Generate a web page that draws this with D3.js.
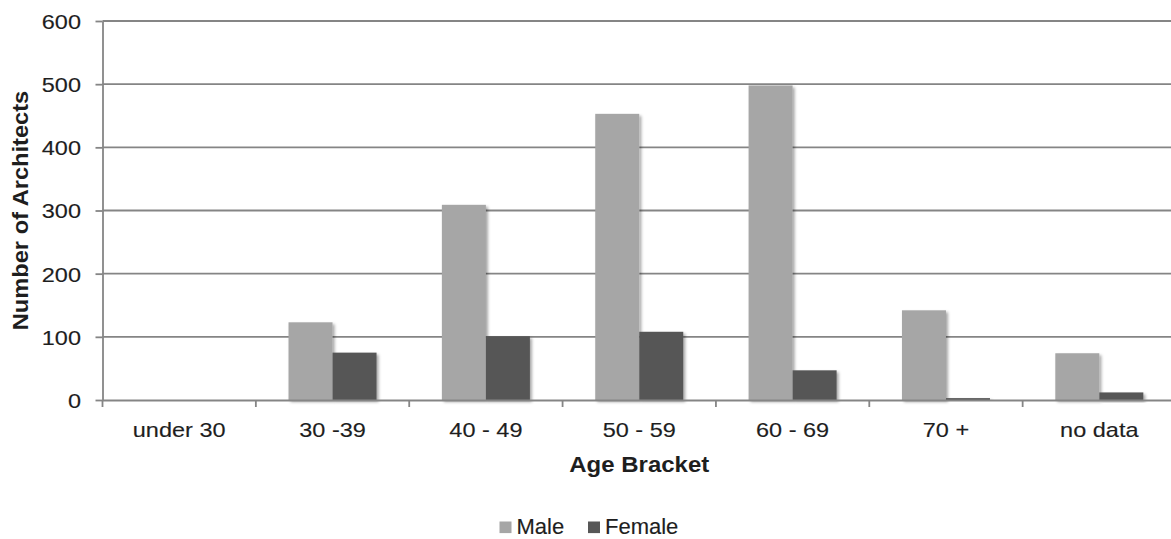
<!DOCTYPE html>
<html>
<head>
<meta charset="utf-8">
<script src="https://cdn.jsdelivr.net/npm/d3@7"></script>
<style>
  html, body { margin: 0; padding: 0; background: #fff; }
  svg { display: block; font-family: "Liberation Sans", Arial, sans-serif; }
</style>
</head>
<body>
<svg id="chart" width="1171" height="539"></svg>
<script>
const categories = ["under 30", "30 -39", "40 - 49", "50 - 59", "60 - 69", "70 +", "no data"];
const seriesNames = ["Male", "Female"];
const maleValues = [0, 123, 309, 453, 498, 142, 74];
const femaleValues = [0, 75, 101, 108, 47, 3, 12];
const yTicks = [0, 100, 200, 300, 400, 500, 600];
const colors = { Male: "#a6a6a6", Female: "#575757" };

(function () {
const svg = d3.select("#chart");
const mLeft = 102.5, mRight = 1176, mTop = 21, mBottom = 400;
const axisColor = "#858585";
const textColor = "#1e1e1e";

const defs = svg.append("defs");
const f = defs.append("filter").attr("id", "shadow")
  .attr("x", "-20%").attr("y", "-20%").attr("width", "150%").attr("height", "150%");
f.append("feDropShadow").attr("dx", 2).attr("dy", 2).attr("stdDeviation", 1.6)
  .attr("flood-color", "#000").attr("flood-opacity", 0.35);

const x0 = d3.scaleBand().domain(categories).range([mLeft, mRight]).padding(0);
const bw = x0.bandwidth();
const x1 = d3.scaleBand().domain(seriesNames).range([bw * 0.213, bw * 0.787]).padding(0);
const y = d3.scaleLinear().domain([0, 600]).range([mBottom, mTop]);

// gridlines
svg.append("g").selectAll("line").data(yTicks.filter(d => d > 0)).join("line")
  .attr("x1", mLeft).attr("x2", 1171)
  .attr("y1", d => y(d)).attr("y2", d => y(d))
  .attr("stroke", axisColor).attr("stroke-width", 1.8);

// bars
const data = categories.map((c, i) => ({ cat: c, Male: maleValues[i], Female: femaleValues[i] }));
const groups = svg.append("g").selectAll("g").data(data).join("g")
  .attr("transform", d => `translate(${x0(d.cat)},0)`);
groups.selectAll("rect").data(d => seriesNames.map(s => ({ s, v: d[s] })).filter(e => e.v > 0)).join("rect")
  .attr("x", d => x1(d.s)).attr("width", x1.bandwidth())
  .attr("y", d => y(d.v)).attr("height", d => y(0) - y(d.v))
  .attr("fill", d => colors[d.s]).attr("filter", "url(#shadow)");

// y axis
const yAxis = svg.append("g").attr("transform", `translate(${mLeft},0)`)
  .call(d3.axisLeft(y).tickValues(yTicks).tickSize(7).tickSizeOuter(0));
yAxis.select(".domain").attr("stroke", axisColor).attr("stroke-width", 1.8);
yAxis.selectAll(".tick line").attr("stroke", axisColor).attr("stroke-width", 1.8);
yAxis.selectAll(".tick text")
  .attr("x", 0).attr("dy", null).attr("y", 0)
  .attr("transform", "translate(-21.5,7.4) scale(1.13,1)")
  .attr("text-anchor", "end")
  .style("font-size", "20.8px").style("font-family", "Liberation Sans, Arial, sans-serif")
  .attr("fill", textColor).attr("stroke", textColor).attr("stroke-width", 0.15);

// x axis
const xAxis = svg.append("g").attr("transform", `translate(0,${mBottom})`)
  .call(d3.axisBottom(x0).tickSize(0).tickSizeOuter(0));
xAxis.select(".domain").attr("stroke", axisColor).attr("stroke-width", 1.8);
xAxis.selectAll(".tick text")
  .attr("y", 0).attr("dy", null)
  .attr("transform", "translate(0,36.7) scale(1.13,1)")
  .style("font-size", "20.8px").style("font-family", "Liberation Sans, Arial, sans-serif")
  .attr("fill", textColor).attr("stroke", textColor).attr("stroke-width", 0.15);
// boundary tick marks
svg.append("g").selectAll("line").data(categories).join("line")
  .attr("x1", d => x0(d)).attr("x2", d => x0(d))
  .attr("y1", mBottom).attr("y2", mBottom + 7)
  .attr("stroke", axisColor).attr("stroke-width", 1.8);

// axis titles
svg.append("text")
  .attr("transform", `translate(${(mLeft + mRight) / 2},471.7) scale(1.1,1)`)
  .attr("text-anchor", "middle")
  .style("font-size", "21.8px").style("font-weight", "bold").attr("fill", textColor)
  .text("Age Bracket");
svg.append("text")
  .attr("transform", `translate(28,${(mTop + mBottom) / 2}) rotate(-90) scale(1.1,1)`)
  .attr("text-anchor", "middle")
  .style("font-size", "21.5px").style("font-weight", "bold").attr("fill", textColor)
  .text("Number of Architects");

// legend
const legendX = [499.5, 588];
const lg = svg.append("g").selectAll("g").data(seriesNames).join("g")
  .attr("transform", (d, i) => `translate(${legendX[i]},0)`);
lg.append("rect").attr("x", 0).attr("y", 521.5).attr("width", 12).attr("height", 11.6)
  .attr("fill", d => colors[d]);
lg.append("text").attr("x", 17).attr("y", 534.3)
  .style("font-size", "22px").attr("fill", textColor)
  .attr("stroke", textColor).attr("stroke-width", 0.15).text(d => d);
})();
</script>
</body>
</html>
